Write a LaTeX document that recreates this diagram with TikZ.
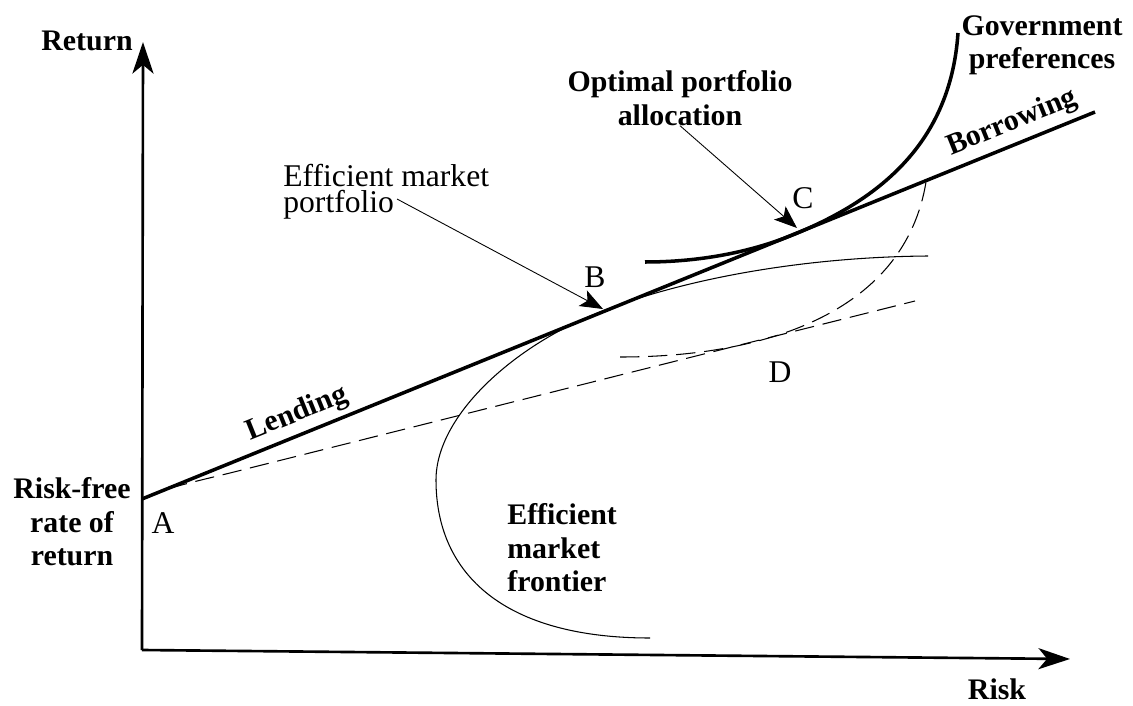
\documentclass[tikz,border=0pt]{standalone}
\usepackage{fontspec}
\setmainfont{Liberation Serif}
\usetikzlibrary{arrows.meta}
\tikzset{
    axisline/.style={line width=1.5pt,-{Stealth[length=18pt,width=12pt,inset=5pt]}},
    cml/.style={line width=2pt},
    pref/.style={line width=2pt},
    frontier/.style={line width=0.6pt},
    dashcurve/.style={line width=0.6pt,dash pattern=on 11pt off 5pt},
    pointer/.style={line width=0.5pt,-{Stealth[length=13pt,width=10pt,inset=3pt]}},
    lbl/.style={font=\fontsize{17}{19}\selectfont\bfseries,inner sep=0pt},
    note/.style={font=\fontsize{18}{15}\selectfont,inner sep=0pt},
    ptlabel/.style={font=\fontsize{18}{20}\selectfont,inner sep=0pt},
}
\begin{document}
\begin{tikzpicture}[x=0.02cm,y=-0.02cm]
    \useasboundingbox (0,0) rectangle (1133,706);
    \coordinate (O) at (142,650);
    \coordinate (ytip) at (143,42);
    \coordinate (xtip) at (1070,659);
    \coordinate (rf) at (142,499);
    \coordinate (mkt) at (603,309);
    \coordinate (opt) at (797,228);
    \coordinate (cmlend) at (1095,112);
    \coordinate (emptail) at (397,199);

    \draw[axisline] (O) -- (ytip);
    \draw[axisline] (O) -- (xtip);
    \node[lbl] (ret) at (87,41) {Return};
    \node[lbl] (risk) at (997,689) {Risk};

    % dashed curves
    \draw[dashcurve] (rf) .. controls (172,487) .. (230,473) -- (915,301);
    \draw[dashcurve] (620,357) .. controls (770,357) and (905,310) .. (926,182);

    % frontier
    \draw[frontier] (650,638) .. controls (505,638) and (436,575) .. (436,480)
        .. controls (436,415) and (515,345) .. (600,312)
        .. controls (680,280) and (800,257) .. (928,256);

    % market line and preferences
    \draw[cml] (rf) -- (cmlend);
    \draw[pref] (645,262) .. controls (700,262) and (750,252) .. (790,236)
        .. controls (870,204) and (950,150) .. (958,33);
    \node[lbl,rotate=22] (lend) at (297,414) {Lending};
    \node[lbl,rotate=22] (borr) at (1012,123) {Borrowing};

    \node[lbl,align=center] (rfr) at (72,522) {Risk-free\\rate of\\return};
    \node[lbl,align=center] (gov) at (1042,45) {Government\\preferences};
    \node[lbl,align=center] (opa) at (680,98) {Optimal portfolio\\allocation};
    \node[lbl,align=left,anchor=west] (eff) at (507,548) {Efficient\\market\\frontier};
    \node[note,align=left,anchor=west] (emp) at (283,192) {Efficient market\\portfolio};

    \node[ptlabel] (labA) at (163,523) {A};
    \node[ptlabel] (labB) at (595,277) {B};
    \node[ptlabel] (labC) at (803,198) {C};
    \node[ptlabel] (labD) at (780,372) {D};

    \draw[pointer] (emptail) -- (mkt);
    \draw[pointer] (opa.south) -- (opt);
\end{tikzpicture}
\end{document}
